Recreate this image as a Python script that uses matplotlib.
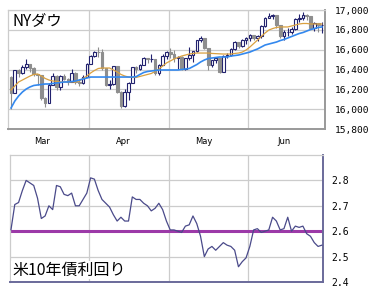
import numpy as np
import matplotlib
matplotlib.use("Agg")
import matplotlib.pyplot as plt
from matplotlib.ticker import FuncFormatter

# NYダウ 日足 (2014/3/3 - 6/27)
opens = [16322, 16168, 16396, 16361, 16422, 16453, 16419, 16351, 16340, 16109, 16066, 16247, 16336, 16222, 16331, 16303, 16277, 16368, 16269, 16264, 16323,
         16458, 16533, 16573, 16572, 16413, 16246, 16256, 16437, 16170, 16027, 16173, 16263, 16425, 16409, 16449, 16514, 16502, 16502, 16361, 16449, 16535,
         16581, 16559, 16513, 16531, 16401, 16519, 16551, 16583, 16695, 16715, 16614, 16447, 16491, 16512, 16374, 16533, 16543, 16606, 16676, 16633, 16699,
         16717, 16744, 16722, 16738, 16836, 16924, 16943, 16946, 16844, 16734, 16776, 16781, 16808, 16907, 16921, 16947, 16937, 16818, 16868, 16846]
closes = [16168, 16396, 16361, 16422, 16453, 16419, 16351, 16340, 16109, 16066, 16247, 16336, 16222, 16331, 16303, 16277, 16368, 16269, 16264, 16323, 16458,
          16533, 16573, 16572, 16413, 16246, 16256, 16437, 16170, 16027, 16173, 16263, 16425, 16409, 16449, 16514, 16502, 16505, 16361, 16449, 16535, 16581,
          16559, 16513, 16531, 16401, 16519, 16551, 16583, 16695, 16715, 16614, 16447, 16491, 16512, 16374, 16533, 16543, 16606, 16676, 16633, 16699, 16717,
          16744, 16722, 16738, 16836, 16924, 16943, 16946, 16844, 16734, 16776, 16781, 16808, 16907, 16921, 16947, 16937, 16818, 16868, 16846, 16852]
highs = [16330, 16400, 16406, 16450, 16505, 16455, 16425, 16352, 16345, 16125, 16260, 16365, 16340, 16345, 16355, 16315, 16405, 16375, 16300, 16340, 16470,
         16545, 16590, 16630, 16605, 16415, 16290, 16440, 16440, 16180, 16200, 16275, 16430, 16440, 16455, 16530, 16520, 16560, 16510, 16460, 16555, 16590,
         16620, 16600, 16540, 16535, 16520, 16630, 16590, 16700, 16735, 16720, 16620, 16495, 16520, 16515, 16545, 16570, 16615, 16690, 16680, 16710, 16725,
         16760, 16745, 16745, 16850, 16930, 16970, 16960, 16950, 16845, 16800, 16820, 16830, 16920, 16955, 16980, 16960, 16940, 16880, 16870, 16880]
lows = [16002, 16165, 16320, 16355, 16405, 16375, 16335, 16245, 16095, 16020, 16060, 16240, 16190, 16190, 16290, 16240, 16270, 16255, 16230, 16255, 16320,
        16455, 16525, 16530, 16400, 16230, 16200, 16245, 16165, 16015, 16025, 16090, 16260, 16360, 16395, 16445, 16470, 16480, 16340, 16340, 16445, 16505,
        16515, 16475, 16410, 16395, 16395, 16500, 16480, 16580, 16680, 16610, 16400, 16425, 16465, 16360, 16370, 16520, 16540, 16600, 16620, 16630, 16660,
        16690, 16700, 16690, 16720, 16830, 16915, 16910, 16820, 16720, 16700, 16740, 16760, 16795, 16880, 16900, 16900, 16810, 16790, 16780, 16770]

# 移動平均 (チャートから読み取り)
ma_short = [16193, 16234, 16274, 16294, 16314, 16334, 16350, 16355, 16334, 16310, 16294, 16284, 16280, 16274, 16274, 16274, 16274, 16274, 16284, 16310, 16334,
            16365, 16390, 16410, 16415, 16415, 16415, 16395, 16375, 16350, 16334, 16324, 16320, 16320, 16330, 16340, 16350, 16360, 16380, 16405, 16435, 16466,
            16486, 16506, 16521, 16536, 16546, 16556, 16562, 16566, 16566, 16566, 16566, 16562, 16560, 16558, 16556, 16556, 16556, 16562, 16566, 16576, 16597,
            16627, 16662, 16697, 16733, 16768, 16798, 16813, 16824, 16829, 16829, 16829, 16839, 16849, 16859, 16864, 16864, 16859, 16859, 16859, 16859]
ma_long = [16012, 16082, 16133, 16173, 16203, 16224, 16239, 16244, 16249, 16254, 16254, 16259, 16264, 16269, 16274, 16274, 16279, 16284, 16294, 16304, 16314,
           16324, 16324, 16324, 16324, 16324, 16324, 16324, 16324, 16324, 16324, 16324, 16324, 16328, 16350, 16370, 16380, 16385, 16390, 16395, 16395, 16395,
           16395, 16395, 16395, 16400, 16405, 16410, 16430, 16450, 16476, 16496, 16511, 16516, 16521, 16526, 16526, 16526, 16536, 16541, 16546, 16556, 16566,
           16576, 16592, 16607, 16627, 16647, 16657, 16667, 16677, 16692, 16703, 16718, 16733, 16748, 16763, 16773, 16788, 16803, 16813, 16824, 16829]

# 米10年債利回り
yields = [2.606, 2.705, 2.713, 2.76, 2.80, 2.79, 2.78, 2.73, 2.65, 2.66, 2.70, 2.685, 2.78, 2.775, 2.745, 2.74, 2.75, 2.70, 2.70, 2.725, 2.75,
          2.81, 2.805, 2.76, 2.725, 2.71, 2.695, 2.665, 2.64, 2.655, 2.64, 2.64, 2.735, 2.725, 2.725, 2.71, 2.70, 2.68, 2.69, 2.71, 2.685, 2.64,
          2.605, 2.605, 2.60, 2.595, 2.62, 2.625, 2.66, 2.63, 2.58, 2.50, 2.53, 2.54, 2.525, 2.54, 2.555, 2.545, 2.54, 2.525, 2.46, 2.48, 2.495,
          2.54, 2.605, 2.61, 2.595, 2.60, 2.605, 2.655, 2.64, 2.605, 2.61, 2.655, 2.60, 2.62, 2.615, 2.62, 2.59, 2.58, 2.555, 2.54, 2.545]
yield_ref = 2.6

months = ['Mar', 'Apr', 'May', 'Jun']
month_pos = [8.3, 29.5, 50.8, 71.9]
month_bounds = [20.6, 41.7, 62.5]

days = np.arange(len(closes))
o = np.array(opens); c = np.array(closes)
h = np.array(highs); l = np.array(lows)

W, H = 380, 300
fig = plt.figure(figsize=(3.8, 3.0), dpi=100)
fig.patch.set_facecolor('white')

grid_c = '#cccccc'
mono = 'DejaVu Sans Mono'
jp = ['Noto Sans CJK JP', 'DejaVu Sans']

# ---- 上段: NYダウ ----
ax1 = fig.add_axes([8 / W, 1 - 129 / H, 317 / W, 119 / H])
ax1.set_xlim(-0.8, 82.8)
ax1.set_ylim(15800, 17000)
ax1.set_yticks(np.arange(15800, 17001, 200))
ax1.yaxis.tick_right()
ax1.yaxis.set_major_formatter(FuncFormatter(lambda v, p: '{:,}'.format(int(v))))
ax1.tick_params(axis='y', length=0, pad=7, labelsize=6.8)
for t in ax1.get_yticklabels():
    t.set_fontfamily(mono)
ax1.set_xticks(month_pos)
ax1.set_xticklabels(months, fontsize=6)
ax1.tick_params(axis='x', length=0, pad=6)
ax1.set_xticks(month_bounds, minor=True)
ax1.tick_params(axis='x', which='minor', length=0)
ax1.grid(True, axis='y', color=grid_c, lw=0.9)
ax1.grid(True, axis='x', which='minor', color=grid_c, lw=0.9)
ax1.set_axisbelow(True)
for s in ['top', 'left']:
    ax1.spines[s].set_color(grid_c)
    ax1.spines[s].set_linewidth(0.9)
for s in ['bottom', 'right']:
    ax1.spines[s].set_color('#999999')
    ax1.spines[s].set_linewidth(1.4)

up = c >= o
body_lo = np.minimum(o, c)
body_h = np.maximum(np.abs(c - o), 4)
navy = '#22226e'
gray = '#8e8e8e'
ax1.vlines(days[up], l[up], h[up], color=navy, lw=0.8, zorder=2)
ax1.vlines(days[~up], l[~up], h[~up], color=gray, lw=0.8, zorder=2)
ax1.bar(days[up], body_h[up], bottom=body_lo[up], width=0.7,
        facecolor='white', edgecolor=navy, linewidth=0.8, zorder=3)
ax1.bar(days[~up], body_h[~up], bottom=body_lo[~up], width=0.7,
        facecolor=gray, edgecolor=gray, linewidth=0.8, zorder=3)

ax1.plot(days, ma_short, color='#d9a040', lw=0.9, zorder=4)
ax1.plot(days, ma_long, color='#3388ee', lw=1.2, zorder=4)

fig.text(12 / W, 1 - 21 / H, 'NYダウ', fontsize=11, family=jp, va='center', ha='left')

# ---- 下段: 米10年債利回り ----
ax2 = fig.add_axes([10 / W, 1 - 282 / H, 313 / W, 127 / H])
ax2.set_xlim(-0.26, 82.3)
ax2.set_ylim(2.4, 2.9)
ax2.set_yticks([2.4, 2.5, 2.6, 2.7, 2.8])
ax2.yaxis.tick_right()
ax2.yaxis.set_major_formatter(FuncFormatter(lambda v, p: '{:.1f}'.format(v)))
ax2.tick_params(axis='y', length=0, pad=6, labelsize=7)
for t in ax2.get_yticklabels():
    t.set_fontfamily(mono)
ax2.set_xticks(month_bounds)
ax2.set_xticklabels([])
ax2.tick_params(axis='x', length=0)
ax2.grid(True, color=grid_c, lw=0.9)
ax2.set_axisbelow(True)
for s in ['top', 'left']:
    ax2.spines[s].set_color(grid_c)
    ax2.spines[s].set_linewidth(0.9)
for s in ['bottom', 'right']:
    ax2.spines[s].set_color('#6a6a9a')
    ax2.spines[s].set_linewidth(1.4)

ax2.axhline(yield_ref, color='#9c3aa8', lw=2.2, zorder=2)
ax2.plot(days, yields, color='#4a4a8a', lw=0.9, zorder=3)

fig.text(12 / W, 1 - 270 / H, '米10年債利回り', fontsize=11.5, family=jp, va='center', ha='left',
         bbox=dict(facecolor='white', edgecolor='none', pad=0.5))

fig.savefig('out.png', dpi=100)
